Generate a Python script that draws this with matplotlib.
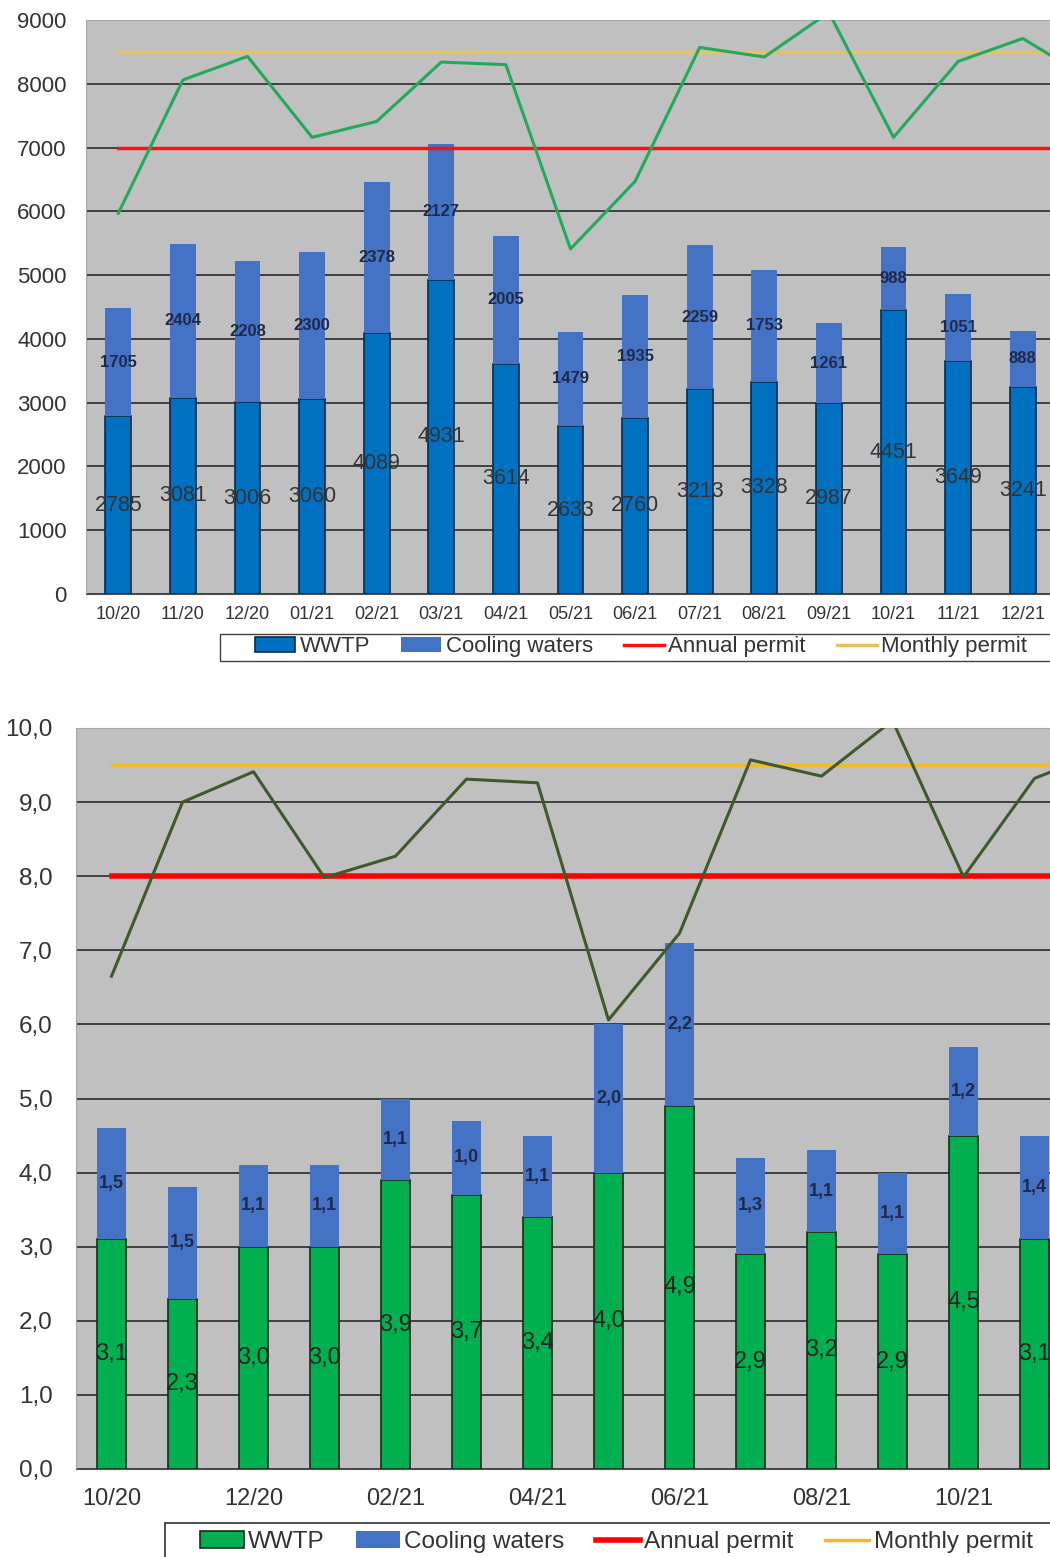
import matplotlib.pyplot as plt
import numpy as np
from matplotlib.ticker import FuncFormatter
from matplotlib.patches import Rectangle

plt.rcParams['font.family'] = ['Liberation Sans', 'DejaVu Sans']

# --- top chart data (m3 / month) ---
months_top = ["10/20", "11/20", "12/20", "01/21", "02/21", "03/21", "04/21", "05/21",
              "06/21", "07/21", "08/21", "09/21", "10/21", "11/21", "12/21"]
wwtp_top = [2785, 3081, 3006, 3060, 4089, 4931, 3614, 2633, 2760, 3213, 3328, 2987, 4451, 3649, 3241]
cooling_top = [1705, 2404, 2208, 2300, 2378, 2127, 2005, 1479, 1935, 2259, 1753, 1261, 988, 1051, 888]
# green line, last point is cut off by the picture edge
total_top = [5970, 8060, 8430, 7160, 7410, 8340, 8300, 5410, 6470, 8570, 8420, 9120, 7160, 8350, 8710, 8100]
annual_top = 7000
monthly_top = 8500

# --- bottom chart data ---
months_bot = ["10/20", "11/20", "12/20", "01/21", "02/21", "03/21", "04/21", "05/21",
              "06/21", "07/21", "08/21", "09/21", "10/21", "11/21"]
wwtp_bot = [3.1, 2.3, 3.0, 3.0, 3.9, 3.7, 3.4, 4.0, 4.9, 2.9, 3.2, 2.9, 4.5, 3.1]
cooling_bot = [1.5, 1.5, 1.1, 1.1, 1.1, 1.0, 1.1, 2.0, 2.2, 1.3, 1.1, 1.1, 1.2, 1.4]
total_bot = [6.65, 9.0, 9.41, 7.98, 8.27, 9.31, 9.26, 6.06, 7.23, 9.57, 9.35, 10.1, 7.99, 9.32, 9.7]
annual_bot = 8.0
monthly_bot = 9.5

plot_bg = "#c0c0c0"
grid_col = "#404040"
cool_col = "#4472c4"
txt_col = "#333333"
navy = "#1f2a4a"

W, H = 1050, 1557
fig = plt.figure(figsize=(10.5, 15.57), dpi=100)


def style_axes(ax):
    ax.set_facecolor(plot_bg)
    ax.grid(axis='y', color=grid_col, linewidth=1.4)
    ax.set_axisbelow(True)
    for s in ['top', 'left', 'right']:
        ax.spines[s].set_color("#a8a8a8")
    ax.spines['bottom'].set_color("#505050")
    ax.tick_params(length=0, colors=txt_col)


# ================= top chart =================
ax1 = fig.add_axes([86 / W, 1 - 594 / H, 16 * 64.6 / W, 574 / H])
style_axes(ax1)
x1 = np.arange(len(months_top))
xl1 = np.arange(len(total_top))
b1 = ax1.bar(x1, wwtp_top, width=0.4, color="#0070c0", edgecolor="#0d2a4a", linewidth=1.2, label="WWTP")
b2 = ax1.bar(x1, cooling_top, width=0.4, bottom=wwtp_top, color=cool_col, label="Cooling waters")
ax1.plot(xl1, total_top, color="#22a95a", linewidth=2.2, zorder=4)
l_ann1, = ax1.plot(xl1, np.full(len(xl1), annual_top), color="#ff1010", linewidth=2.5, label="Annual permit", zorder=3)
l_mon1, = ax1.plot(xl1, np.full(len(xl1), monthly_top), color="#e8c25a", linewidth=2.5, label="Monthly permit", zorder=3)
ax1.bar_label(b1, labels=[str(v) for v in wwtp_top], label_type='center', fontsize=15.5, color=txt_col)
ax1.bar_label(b2, labels=[str(v) for v in cooling_top], label_type='center', fontsize=12,
              color=navy, fontweight='bold')
ax1.set_xlim(-0.5, len(xl1) - 0.5)
ax1.set_ylim(0, 9000)
ax1.set_yticks(np.arange(0, 9001, 1000))
ax1.set_xticks(x1)
ax1.set_xticklabels(months_top, fontsize=13)
ax1.tick_params(axis='y', labelsize=16, pad=14)
ax1.tick_params(axis='x', pad=9)

fig.add_artist(Rectangle((220 / W, 1 - 661 / H), 1.0, 27 / H, transform=fig.transFigure,
                         fill=False, edgecolor="#404040", linewidth=1.0))
fig.legend(handles=[b1, b2, l_ann1, l_mon1], loc='center left',
           bbox_to_anchor=(255 / W, 1 - 647 / H), ncol=4, fontsize=16, frameon=False,
           borderpad=0, borderaxespad=0, handlelength=1.8, handletextpad=0.2,
           columnspacing=1.4, labelcolor=txt_col)

# ================= bottom chart =================
ax2 = fig.add_axes([76 / W, 1 - 1469 / H, 15 * 71 / W, 741 / H])
style_axes(ax2)
x2 = np.arange(len(months_bot))
xl2 = np.arange(len(total_bot))
c1 = ax2.bar(x2, wwtp_bot, width=0.4, color="#00b050", edgecolor="#1a2a1a", linewidth=1.2, label="WWTP")
c2 = ax2.bar(x2, cooling_bot, width=0.4, bottom=wwtp_bot, color=cool_col, label="Cooling waters")
ax2.plot(xl2, total_bot, color="#3f5a2a", linewidth=2.2, zorder=4)
l_ann2, = ax2.plot(xl2, np.full(len(xl2), annual_bot), color="#ff0000", linewidth=4, label="Annual permit", zorder=3)
l_mon2, = ax2.plot(xl2, np.full(len(xl2), monthly_bot), color="#f2b92a", linewidth=2.5, label="Monthly permit", zorder=3)
ax2.bar_label(c1, labels=[f"{v:.1f}".replace('.', ',') for v in wwtp_bot], label_type='center',
              fontsize=17, color="#222222")
ax2.bar_label(c2, labels=[f"{v:.1f}".replace('.', ',') for v in cooling_bot], label_type='center',
              fontsize=13, color=navy, fontweight='bold')
ax2.set_xlim(-0.5, len(xl2) - 0.5)
ax2.set_ylim(0, 10)
ax2.set_yticks(np.arange(0, 10.01, 1.0))
ax2.yaxis.set_major_formatter(FuncFormatter(lambda v, p: f"{v:.1f}".replace('.', ',')))
ax2.set_xticks(x2[::2])
ax2.set_xticklabels(months_bot[::2], fontsize=17)
ax2.tick_params(axis='y', labelsize=17.5, pad=17)
ax2.tick_params(axis='x', pad=14)

fig.add_artist(Rectangle((165 / W, -0.02), 1.0, (H - 1523) / H + 0.02, transform=fig.transFigure,
                         fill=False, edgecolor="#303030", linewidth=1.2))
fig.legend(handles=[c1, c2, l_ann2, l_mon2], loc='center left',
           bbox_to_anchor=(200 / W, 1 - 1542 / H), ncol=4, fontsize=17.5, frameon=False,
           borderpad=0, borderaxespad=0, handlelength=1.8, handletextpad=0.18,
           columnspacing=1.3, labelcolor=txt_col)

fig.savefig("out.png", dpi=100)
